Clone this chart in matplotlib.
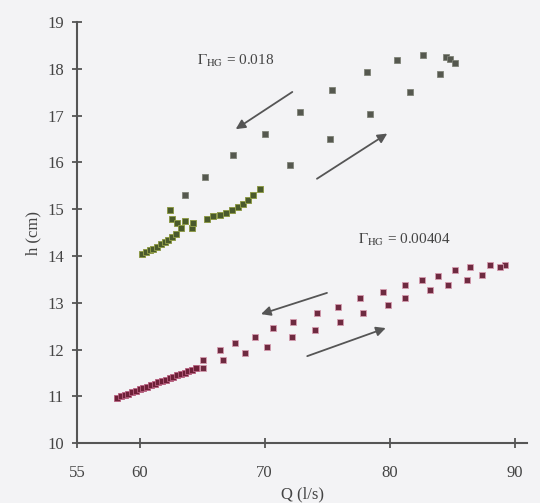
import matplotlib.pyplot as plt

plt.rcParams['font.family'] = ['Liberation Serif', 'DejaVu Serif']
plt.rcParams['mathtext.fontset'] = 'stix'

# Gamma = 0.018, decreasing discharge (upper branch)
q_g_down = [84.5, 82.7, 80.6, 78.2, 75.4, 72.8, 70.0, 67.5, 65.2, 63.6]
h_g_down = [18.25, 18.3, 18.18, 17.93, 17.54, 17.07, 16.6, 16.15, 15.69, 15.3]
# Gamma = 0.018, increasing discharge (sparse part)
q_g_up = [72.0, 75.2, 78.4, 81.6, 84.0, 84.8, 85.2]
h_g_up = [15.94, 16.5, 17.04, 17.5, 17.9, 18.22, 18.12]
# Gamma = 0.018, dense low-discharge part
q_g_dense = [60.2, 60.5, 60.8, 61.1, 61.4, 61.7, 62.0, 62.3, 62.6, 62.9,
             62.4, 62.6, 63.0, 63.3, 63.6, 64.2, 64.3,
             65.4, 65.9, 66.4, 66.9, 67.4, 67.9, 68.3, 68.7, 69.1, 69.6]
h_g_dense = [14.05, 14.08, 14.12, 14.16, 14.2, 14.25, 14.3, 14.35, 14.4, 14.47,
             14.98, 14.8, 14.7, 14.6, 14.75, 14.6, 14.7,
             14.8, 14.85, 14.88, 14.93, 14.98, 15.05, 15.12, 15.2, 15.3, 15.43]

# Gamma = 0.00404
q_r_dense = [58.2, 58.5, 58.8, 59.1, 59.4, 59.7, 60.0, 60.3, 60.6, 60.9,
             61.2, 61.5, 61.8, 62.1, 62.4, 62.7, 63.0, 63.3, 63.6, 63.9, 64.2, 64.5]
h_r_dense = [10.97, 11.0, 11.03, 11.06, 11.09, 11.12, 11.15, 11.18, 11.21, 11.24,
             11.27, 11.3, 11.33, 11.36, 11.39, 11.42, 11.45, 11.48, 11.51, 11.54, 11.57, 11.6]
q_r_down = [65.1, 66.4, 67.6, 69.2, 70.7, 72.3, 74.2, 75.9, 77.6, 79.5, 81.2,
            82.6, 83.9, 85.2, 86.4, 88.0, 89.2]
h_r_down = [11.77, 11.99, 12.14, 12.27, 12.46, 12.6, 12.78, 12.9, 13.1, 13.23, 13.37,
            13.48, 13.58, 13.7, 13.76, 13.8, 13.8]
q_r_up = [65.1, 66.7, 68.4, 70.2, 72.2, 74.0, 76.0, 77.9, 79.9, 81.2, 83.2,
          84.7, 86.2, 87.4, 88.8]
h_r_up = [11.6, 11.77, 11.92, 12.05, 12.27, 12.41, 12.6, 12.78, 12.95, 13.1, 13.27,
          13.37, 13.48, 13.6, 13.76]

bg = '#f3f3f5'
axc = '#555555'
fig = plt.figure(figsize=(5.4, 5.03), dpi=100, facecolor=bg)
ax = fig.add_axes([0.143, 0.119, 0.833, 0.837], facecolor=bg)

ax.plot(q_g_down, h_g_down, 's', ms=5, color='#55584f', mec='#808378', mew=0.6)
ax.plot(q_g_up, h_g_up, 's', ms=5, color='#55584f', mec='#808378', mew=0.6)
ax.plot(q_g_dense, h_g_dense, 's', ms=5, color='#4a5a2c', mec='#8e9a48', mew=0.7)
ax.plot(q_r_dense, h_r_dense, 's', ms=5, color='#6e2038', mec='#b86080', mew=0.6)
ax.plot(q_r_down, h_r_down, 's', ms=5, color='#6e2a40', mec='#d49aae', mew=0.6)
ax.plot(q_r_up, h_r_up, 's', ms=5, color='#6e2a40', mec='#d49aae', mew=0.6)

arrow = dict(arrowstyle='-|>', color='#555555', lw=1.3, mutation_scale=14)
ax.annotate('', xy=(67.5, 16.68), xytext=(72.4, 17.54), arrowprops=arrow)
ax.annotate('', xy=(80.0, 16.65), xytext=(74.0, 15.62), arrowprops=arrow)
ax.annotate('', xy=(69.5, 12.74), xytext=(75.2, 13.23), arrowprops=arrow)
ax.annotate('', xy=(79.9, 12.48), xytext=(73.2, 11.84), arrowprops=arrow)

ax.text(64.6, 18.18, r'$\Gamma_{\mathrm{HG}}$ = 0.018', fontsize=11, color='#444444', va='center')
ax.text(77.5, 14.34, r'$\Gamma_{\mathrm{HG}}$ = 0.00404', fontsize=11, color='#444444', va='center')

ax.set_xlim(55, 91)
ax.set_ylim(10, 19)
ax.set_xticks([55, 60, 70, 80, 90])
ax.set_yticks(range(10, 20))
ax.spines['top'].set_visible(False)
ax.spines['right'].set_visible(False)
for s in ['left', 'bottom']:
    ax.spines[s].set_color(axc)
    ax.spines[s].set_linewidth(1.5)
ax.tick_params(direction='inout', length=7, width=1.3, color=axc,
               labelcolor='#444444', labelsize=12)
ax.tick_params(axis='x', pad=12)
ax.tick_params(axis='y', pad=6)
ax.set_xlabel('Q (l/s)', fontsize=12, color='#444444', labelpad=4)
ax.set_ylabel('h (cm)', fontsize=12, color='#444444', labelpad=4)

fig.savefig('out.png', dpi=100, facecolor=bg)
